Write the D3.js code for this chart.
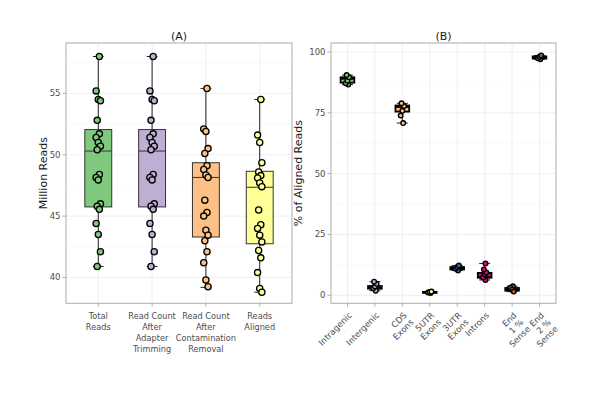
<!DOCTYPE html>
<html><head><meta charset="utf-8">
<script src="https://cdn.jsdelivr.net/npm/d3@7/dist/d3.min.js"></script>
<style>body{margin:0;background:#fff}svg{display:block}</style>
</head><body>
<script>
// ---------- Panel A data ----------
const catsA = ["Total\nReads","Read Count\nAfter\nAdapter\nTrimming","Read Count\nAfter\nContamination\nRemoval","Reads\nAligned"];
const colorsA = ["#7fc97f","#beaed4","#fdc086","#ffff99"];
const ptsTotal = [58.0,55.2,54.5,54.4,52.8,51.7,51.4,51.0,50.7,50.4,48.4,48.15,47.95,46.0,45.8,45.55,44.4,43.5,42.1,40.9];
const ptsAdapter = [58.0,55.2,54.5,54.4,52.8,51.7,51.4,51.0,50.7,50.4,48.4,48.15,47.95,46.0,45.8,45.55,44.4,43.5,42.1,40.9];
const ptsContam = [55.4,52.1,51.9,50.5,50.1,49.1,48.8,48.35,48.15,46.3,45.3,45.0,43.85,43.45,43.0,42.1,41.2,39.8,39.25];
const ptsAligned = [54.5,51.6,51.0,49.35,48.6,48.3,48.1,47.7,47.4,45.5,44.3,44.0,43.45,42.9,42.2,41.6,40.4,39.1,38.8];
const loA  = [40.9,40.9,39.2,38.8];
const q1A  = [45.75,45.75,43.3,42.75];
const medA = [50.3,50.3,48.15,47.35];
const q3A  = [52.05,52.05,49.35,48.65];
const hiA  = [58.0,58.0,55.4,54.5];
const ticksA = [40,45,50,55];

// ---------- Panel B data ----------
const catsB = ["Intragenic","Intergenic","CDS\nExons","5UTR\nExons","3UTR\nExons","Introns","End\n1 %\nSense","End\n2 %\nSense"];
const colorsB = ["#7fc97f","#beaed4","#fdc086","#ffff99","#386cb0","#f0027f","#bf5b17","#666666"];
const ptsIntragenic = [86.6,87.2,88.2,89.6,90.5];
const ptsIntergenic = [1.9,2.9,3.6,4.7,5.6];
const ptsCDS = [70.8,73.9,75.8,77.8,78.9];
const pts5UTR = [0.9,1.1,1.3,1.5];
const pts3UTR = [10.2,10.9,11.6,12.2];
const ptsIntrons = [6.3,7.3,8.6,9.4,10.6,13.1];
const ptsEnd1 = [3.7,3.1,2.3,1.5];
const ptsEnd2 = [97.0,97.4,98.0,98.6];
const loB  = [86.6,1.9,70.8,0.9,10.2,6.3,1.5,97.0];
const q1B  = [87.4,2.7,75.5,1.0,10.6,7.2,1.9,97.3];
const medB = [89.0,3.0,77.4,1.2,11.1,7.5,2.4,97.7];
const q3B  = [89.6,3.8,78.0,1.4,11.6,9.2,3.0,98.2];
const hiB  = [90.5,5.6,78.9,1.5,12.2,13.1,3.7,98.6];
const ticksB = [0,25,50,75,100];

const W=600,H=400;
const svg=d3.select("body").append("svg").attr("width",W).attr("height",H)
  .style("font-family","'DejaVu Sans',sans-serif");
svg.append("rect").attr("width",W).attr("height",H).attr("fill","#fff");

function panel(o){
  const g=svg.append("g");
  const x=d3.scalePoint().domain(d3.range(o.cats.length)).range([o.x0,o.x1]).padding(0.6);
  const y=d3.scaleLinear().domain(o.ydom).range([o.y1,o.y0]);
  const bw=x.step();
  const minor=[];
  for(let i=0;i<o.ticks.length-1;i++) minor.push((o.ticks[i]+o.ticks[i+1])/2);
  minor.push(o.ticks[0]-(o.ticks[1]-o.ticks[0])/2);
  minor.push(o.ticks[o.ticks.length-1]+(o.ticks[1]-o.ticks[0])/2);
  g.selectAll(".mn").data(minor.filter(v=>v>o.ydom[0]&&v<o.ydom[1])).join("line")
    .attr("x1",o.x0).attr("x2",o.x1).attr("y1",d=>y(d)).attr("y2",d=>y(d))
    .attr("stroke","#f2f2f2").attr("stroke-width",0.5);
  g.selectAll(".mj").data(o.ticks).join("line")
    .attr("x1",o.x0).attr("x2",o.x1).attr("y1",d=>y(d)).attr("y2",d=>y(d))
    .attr("stroke","#ebebeb").attr("stroke-width",0.8);
  g.selectAll(".vg").data(d3.range(o.cats.length)).join("line")
    .attr("x1",d=>x(d)).attr("x2",d=>x(d)).attr("y1",o.y0).attr("y2",o.y1)
    .attr("stroke","#ebebeb").attr("stroke-width",0.8);

  const bx=g.selectAll(".box").data(d3.range(o.cats.length)).join("g");
  const half=bw*0.25, cap=bw*(o.capFrac);
  bx.append("line").attr("x1",d=>x(d)).attr("x2",d=>x(d))
    .attr("y1",d=>y(o.lo[d])).attr("y2",d=>y(o.hi[d])).attr("stroke","#222").attr("stroke-width",1);
  bx.append("line").attr("x1",d=>x(d)-cap).attr("x2",d=>x(d)+cap)
    .attr("y1",d=>y(o.lo[d])).attr("y2",d=>y(o.lo[d])).attr("stroke","#222").attr("stroke-width",1);
  bx.append("line").attr("x1",d=>x(d)-cap).attr("x2",d=>x(d)+cap)
    .attr("y1",d=>y(o.hi[d])).attr("y2",d=>y(o.hi[d])).attr("stroke","#222").attr("stroke-width",1);
  bx.append("rect").attr("x",d=>x(d)-half).attr("width",half*2)
    .attr("y",d=>y(o.q3[d])).attr("height",d=>Math.max(0.5,y(o.q1[d])-y(o.q3[d])))
    .attr("fill",d=>o.colors[d]).attr("stroke",o.boxStroke).attr("stroke-width",o.boxSW);
  bx.append("line").attr("x1",d=>x(d)-half).attr("x2",d=>x(d)+half)
    .attr("y1",d=>y(o.med[d])).attr("y2",d=>y(o.med[d])).attr("stroke",o.boxStroke).attr("stroke-width",o.boxSW);

  o.pts.forEach((arr,ci)=>{
    g.selectAll(".p"+ci).data(arr).join("circle")
      .attr("cx",(d,i)=>x(ci)+(((i*7+3)%5)-2)*bw*o.jit)
      .attr("cy",d=>y(d)).attr("r",o.r)
      .attr("fill",o.colors[ci]).attr("stroke","#000").attr("stroke-width",o.psw);
  });

  g.append("rect").attr("x",o.x0).attr("y",o.y0).attr("width",o.x1-o.x0).attr("height",o.y1-o.y0)
    .attr("fill","none").attr("stroke","#b3b3b3").attr("stroke-width",1.1);

  g.selectAll(".yt").data(o.ticks).join("line")
    .attr("x1",o.x0-3.5).attr("x2",o.x0).attr("y1",d=>y(d)).attr("y2",d=>y(d))
    .attr("stroke","#b3b3b3").attr("stroke-width",1);
  g.selectAll(".yl").data(o.ticks).join("text")
    .attr("x",o.x0-5.5).attr("y",d=>y(d)).attr("dy","0.35em").attr("text-anchor","end")
    .attr("font-size",8.5).attr("fill","#4d4d4d").text(d=>d);
  g.selectAll(".xt").data(d3.range(o.cats.length)).join("line")
    .attr("x1",d=>x(d)).attr("x2",d=>x(d)).attr("y1",o.y1).attr("y2",o.y1+3.5)
    .attr("stroke","#b3b3b3").attr("stroke-width",1);
  o.cats.forEach((c,i)=>{
    const lines=c.split("\n");
    if(!o.rot){
      const t=g.append("text").attr("font-size",8.2).attr("fill","#4d4d4d").attr("text-anchor","middle");
      lines.forEach((ln,k)=>t.append("tspan").attr("x",x(i)).attr("y",o.y1+15.3+k*11.2).text(ln));
    } else {
      const ax=x(i)+0.5, ay=o.y1+8;
      const t=g.append("text").attr("font-size",8.5).attr("fill","#4d4d4d").attr("text-anchor","end")
        .attr("transform",`translate(${ax},${ay}) rotate(-45)`);
      lines.forEach((ln,k)=>t.append("tspan").attr("x",0).attr("y",0).attr("dy",(0.75+k*1.15)+"em").text(ln));
    }
  });
  g.append("text").attr("x",(o.x0+o.x1)/2).attr("y",o.y0-3.5).attr("text-anchor","middle")
    .attr("font-size",11).attr("fill","#1a1a1a").text(o.title);
  g.append("text").attr("transform",`translate(${o.ytx},${(o.y0+o.y1)/2}) rotate(-90)`)
    .attr("text-anchor","middle").attr("dy","0.35em").attr("font-size",11).attr("fill","#1a1a1a").text(o.ytitle);
}

panel({cats:catsA,colors:colorsA,pts:[ptsTotal,ptsAdapter,ptsContam,ptsAligned],
  lo:loA,q1:q1A,med:medA,q3:q3A,hi:hiA,ticks:ticksA,ydom:[37.9,59.1],
  x0:66,x1:292,y0:43,y1:303.3,r:3.1,psw:1.3,jit:0.02,capFrac:0.1,boxStroke:"#333",boxSW:1,
  rot:false,title:"(A)",ytitle:"Million Reads",ytx:43});
panel({cats:catsB,colors:colorsB,pts:[ptsIntragenic,ptsIntergenic,ptsCDS,pts5UTR,pts3UTR,ptsIntrons,ptsEnd1,ptsEnd2],
  lo:loB,q1:q1B,med:medB,q3:q3B,hi:hiB,ticks:ticksB,ydom:[-3.3,103.7],
  x0:331,x1:556,y0:43,y1:303.3,r:2.3,psw:1.4,jit:0.03,capFrac:0.2,boxStroke:"#000",boxSW:1.8,
  rot:true,title:"(B)",ytitle:"% of Aligned Reads",ytx:298});
</script>
</body></html>
